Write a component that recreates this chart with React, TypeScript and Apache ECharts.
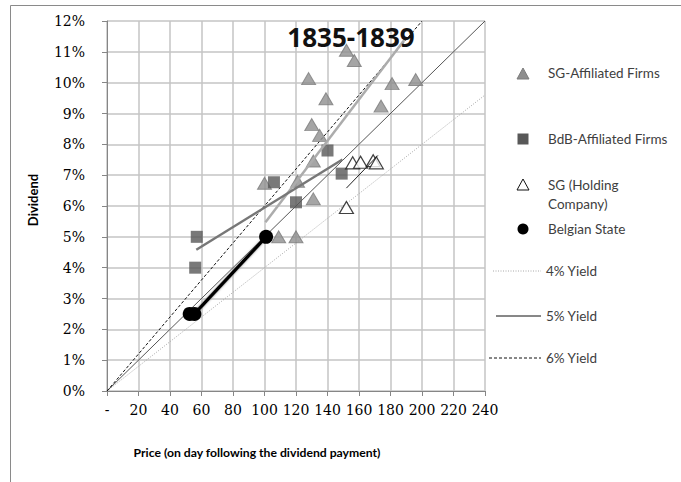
import React, { useEffect, useRef } from "react";
import * as echarts from "echarts";

// SG-Affiliated Firms: [price, dividend %]
const sgAffiliated: [number, number][] = [
  [152, 11.05], [157, 10.72], [128, 10.13], [181, 9.97], [196, 10.1],
  [139, 9.48], [174, 9.24], [130, 8.64], [135, 8.29], [131, 7.46],
  [100, 6.74], [121, 6.8], [131, 6.23], [109, 5.0], [120, 5.0],
];
// BdB-Affiliated Firms
const bdbAffiliated: [number, number][] = [
  [140, 7.8], [106, 6.77], [149, 7.05], [120, 6.12], [57, 5.0], [56, 4.0],
];
// SG (Holding Company)
const sgHolding: [number, number][] = [
  [156, 7.4], [161, 7.42], [169, 7.47], [171, 7.4], [152, 5.95],
];
// Belgian State
const belgianState: [number, number][] = [
  [52.5, 2.5], [55.5, 2.5], [101, 5.0],
];
// Trend lines (end points)
const sgAffTrend: [number, number][] = [[100.6, 5.47], [189, 11.4]];
const bdbTrend: [number, number][] = [[56.7, 4.58], [149.5, 7.51]];
const sgHoldTrend: [number, number][] = [[152, 6.58], [172, 7.64]];
// Yield reference lines (end points)
const yield4: [number, number][] = [[0, 0], [240, 9.6]];
const yield5: [number, number][] = [[0, 0], [240, 12]];
const yield6: [number, number][] = [[0, 0], [200, 12]];

const legendItems = ["SG-Affiliated Firms", "BdB-Affiliated Firms", "SG (Holding\nCompany)", "Belgian State"];
const yieldLabels = ["4% Yield", "5% Yield", "6% Yield"];
const title = "1835-1839";
const xTitle = "Price (on day following the dividend payment)";
const yTitle = "Dividend";

export default function App() {
  const ref = useRef<HTMLDivElement>(null);
  useEffect(() => {
    if (!ref.current) return;
    const chart = echarts.init(ref.current, null, { renderer: "svg" });
    const legendFont = { fontFamily: "Lato", fontSize: 13.5, fill: "#404040" };
    const legX = 523;
    const textX = 548;
    const lineSeries = (data: [number, number][], color: string, width: number, type: any, z = 2) => ({
      type: "line",
      data,
      symbol: "none",
      silent: true,
      z,
      lineStyle: { color, width, type },
    });
    chart.setOption({
      animation: false,
      backgroundColor: "#ffffff",
      grid: { left: 107, right: 196, top: 21, bottom: 91 },
      xAxis: {
        type: "value",
        min: 0,
        max: 240,
        interval: 20,
        axisLine: { show: true, lineStyle: { color: "#868686" } },
        axisTick: { show: true, inside: false, length: 5, lineStyle: { color: "#868686" } },
        axisLabel: {
          margin: 12,
          fontFamily: "DejaVu Serif",
          fontSize: 14,
          color: "#000",
          formatter: (v: number) => (v === 0 ? "-" : String(v)),
        },
        splitLine: { show: true, lineStyle: { color: "#c4c4c4", width: 1.5 } },
      },
      yAxis: {
        type: "value",
        min: 0,
        max: 12,
        interval: 1,
        axisLine: { show: true, lineStyle: { color: "#868686" } },
        axisTick: { show: true, inside: false, length: 5, lineStyle: { color: "#868686" } },
        axisLabel: {
          margin: 22,
          fontFamily: "DejaVu Serif",
          fontSize: 14,
          color: "#000",
          formatter: "{value}%",
        },
        splitLine: { show: true, lineStyle: { color: "#c4c4c4", width: 1.5 } },
      },
      series: [
        lineSeries(yield4, "#a8a8a8", 1, [1, 1.5]),
        lineSeries(yield5, "#555555", 1, "solid"),
        lineSeries(yield6, "#111111", 1, [3, 2]),
        {
          type: "scatter",
          data: sgAffiliated,
          symbol: "triangle",
          symbolSize: [14, 12],
          z: 3,
          itemStyle: { color: "#8e8e8e", borderColor: "#7c7c7c", borderWidth: 1 },
        },
        {
          type: "scatter",
          data: bdbAffiliated,
          symbol: "rect",
          symbolSize: 12,
          z: 3,
          itemStyle: { color: "#585858" },
        },
        {
          type: "scatter",
          data: sgHolding,
          symbol: "triangle",
          symbolSize: [14, 12],
          z: 3,
          itemStyle: { color: "#ffffff", borderColor: "#111111", borderWidth: 1.2 },
        },
        lineSeries(sgAffTrend, "#acacac", 2.5, "solid", 4),
        lineSeries(bdbTrend, "#777777", 2.5, "solid", 4),
        lineSeries(sgHoldTrend, "#222222", 1, "solid", 4),
        {
          type: "line",
          data: belgianState,
          symbol: "circle",
          symbolSize: 14,
          showSymbol: true,
          z: 5,
          lineStyle: { color: "#000000", width: 3.5, shadowColor: "#888", shadowBlur: 2 },
          itemStyle: { color: "#000000" },
        },
      ],
      graphic: [
        {
          type: "rect",
          shape: { x: 10.5, y: 5.5, width: 700, height: 520 },
          style: { fill: "none", stroke: "#8a8a8a", lineWidth: 1 },
          silent: true,
          z: -10,
        },
        {
          type: "text",
          x: 351,
          y: 37,
          style: {
            text: title,
            fontFamily: "Open Sans",
            fontWeight: "bold",
            fontSize: 26,
            fill: "#111",
            align: "center",
            verticalAlign: "middle",
          },
          z: 10,
        },
        {
          type: "text",
          x: 257,
          y: 452,
          style: {
            text: xTitle,
            fontFamily: "Lato",
            fontWeight: "bold",
            fontSize: 12.2,
            fill: "#000",
            align: "center",
            verticalAlign: "middle",
          },
        },
        {
          type: "text",
          x: 33,
          y: 200,
          rotation: Math.PI / 2,
          style: {
            text: yTitle,
            fontFamily: "Lato",
            fontWeight: "bold",
            fontSize: 13,
            fill: "#000",
            align: "center",
            verticalAlign: "middle",
          },
        },
        // legend symbols
        {
          type: "polygon",
          shape: { points: [[legX - 6, 79], [legX + 6, 79], [legX, 68]] },
          style: { fill: "#8e8e8e", stroke: "#7c7c7c" },
        },
        {
          type: "rect",
          shape: { x: legX - 5.5, y: 133.5, width: 11, height: 11 },
          style: { fill: "#585858" },
        },
        {
          type: "polygon",
          shape: { points: [[legX - 6, 190], [legX + 6, 190], [legX, 179]] },
          style: { fill: "#fff", stroke: "#111", lineWidth: 1 },
        },
        {
          type: "circle",
          shape: { cx: legX, cy: 229, r: 5.5 },
          style: { fill: "#000" },
        },
        { type: "text", x: textX, y: 73, style: { ...legendFont, text: legendItems[0], verticalAlign: "middle" } },
        { type: "text", x: textX, y: 139, style: { ...legendFont, text: legendItems[1], verticalAlign: "middle" } },
        { type: "text", x: textX, y: 194, style: { ...legendFont, text: legendItems[2], verticalAlign: "middle", lineHeight: 19 } },
        { type: "text", x: textX, y: 229, style: { ...legendFont, text: legendItems[3], verticalAlign: "middle" } },
        // yield legend
        {
          type: "line",
          shape: { x1: 493, y1: 271, x2: 541, y2: 271 },
          style: { stroke: "#a8a8a8", lineWidth: 1, lineDash: [1, 1.5] },
        },
        {
          type: "line",
          shape: { x1: 496, y1: 316, x2: 541, y2: 316 },
          style: { stroke: "#111", lineWidth: 1 },
        },
        {
          type: "line",
          shape: { x1: 489, y1: 358, x2: 541, y2: 358 },
          style: { stroke: "#111", lineWidth: 1, lineDash: [3, 2] },
        },
        { type: "text", x: 546, y: 271, style: { ...legendFont, text: yieldLabels[0], verticalAlign: "middle" } },
        { type: "text", x: 546, y: 316, style: { ...legendFont, text: yieldLabels[1], verticalAlign: "middle" } },
        { type: "text", x: 546, y: 358, style: { ...legendFont, text: yieldLabels[2], verticalAlign: "middle" } },
      ],
    });
    return () => chart.dispose();
  }, []);
  return (
    <div
      ref={ref}
      style={{ position: "fixed", left: 0, top: 0, width: 681, height: 482, background: "#fff" }}
    />
  );
}
